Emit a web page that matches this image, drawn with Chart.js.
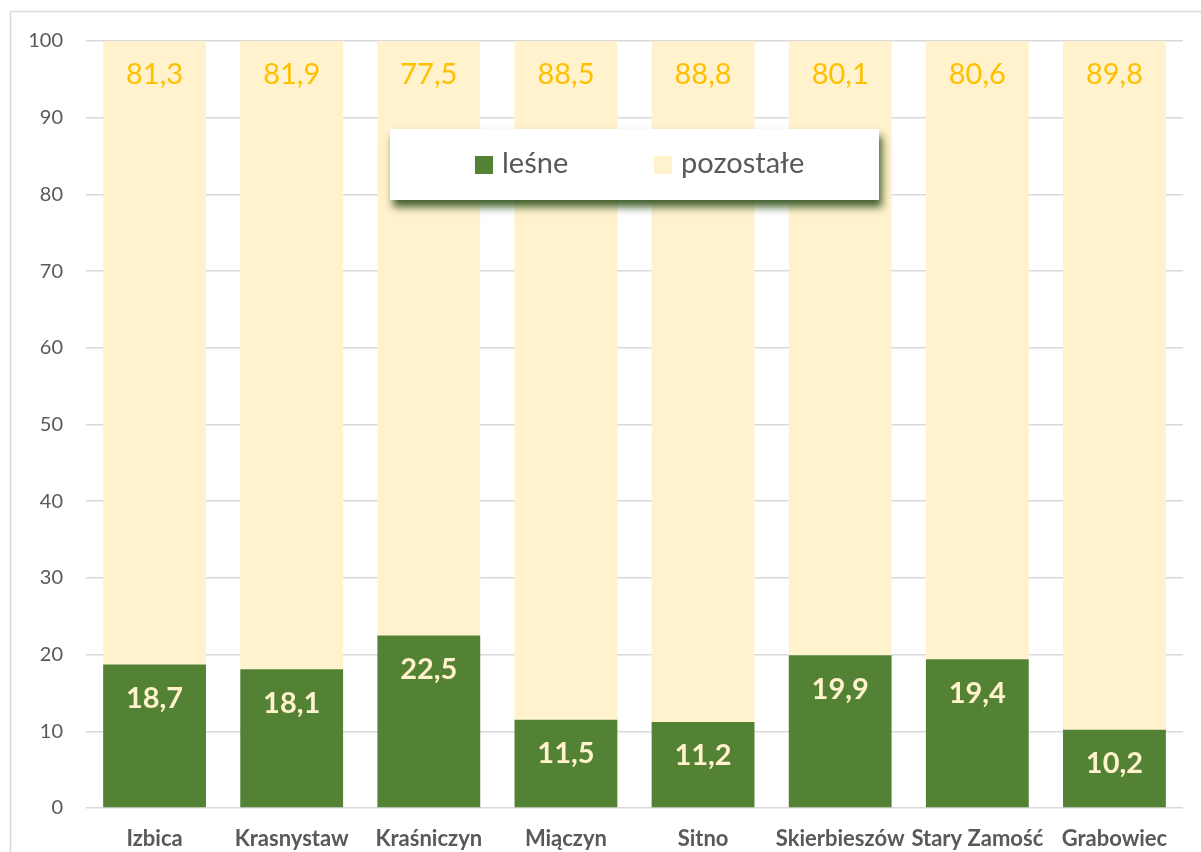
<!DOCTYPE html>
<html>
<head>
<meta charset="utf-8">
<script src="https://cdn.jsdelivr.net/npm/chart.js@4/dist/chart.umd.min.js"></script>
<style>
html,body{margin:0;padding:0;background:#fff;}
#wrap{width:1201px;height:852px;position:relative;}
</style>
</head>
<body>
<div id="wrap"><canvas id="c" width="1201" height="852"></canvas></div>
<script>
const categories = ["Izbica","Krasnystaw","Kraśniczyn","Miączyn","Sitno","Skierbieszów","Stary Zamość","Grabowiec"];
const lesne = [18.7,18.1,22.5,11.5,11.2,19.9,19.4,10.2];
const pozostale = [81.3,81.9,77.5,88.5,88.8,80.1,80.6,89.8];
const seriesNames = ["leśne","pozostałe"];
const yTicks = [0,10,20,30,40,50,60,70,80,90,100];

const FONT = "Lato, 'Open Sans', sans-serif";
const GREEN = "#548235", CREAM = "#FFF2CC";

const fmt = v => v.toFixed(1).replace('.', ',');

const framePlugin = {
  id:'frame',
  beforeDraw(chart){
    const ctx = chart.ctx;
    ctx.save();
    ctx.strokeStyle = '#D9D9D9';
    ctx.lineWidth = 1.5;
    ctx.strokeRect(10.5, 11.5, 1400, 1000);
    ctx.restore();
  }
};

const labelPlugin = {
  id:'vlabels',
  afterDatasetsDraw(chart){
    const ctx = chart.ctx;
    ctx.save();
    ctx.textAlign = 'center';
    ctx.textBaseline = 'middle';
    chart.data.datasets.forEach((ds, di) => {
      const meta = chart.getDatasetMeta(di);
      meta.data.forEach((bar, i) => {
        const v = ds.data[i];
        if (di === 0) {
          ctx.font = "bold 29px " + FONT;
          ctx.fillStyle = CREAM;
          ctx.fillText(fmt(v), bar.x, bar.y + 34);
        } else {
          ctx.font = "29px " + FONT;
          ctx.fillStyle = "#FFC000";
          ctx.fillText(fmt(v), bar.x, bar.y + 34);
        }
      });
    });
    ctx.restore();
  }
};

const legendPlugin = {
  id:'boxlegend',
  afterDraw(chart){
    const ctx = chart.ctx;
    const x = 390, y = 129, w = 489, h = 71;
    ctx.save();
    ctx.shadowColor = 'rgba(56,87,35,0.95)';
    ctx.shadowBlur = 8;
    ctx.shadowOffsetX = 3;
    ctx.shadowOffsetY = 7;
    ctx.fillStyle = '#fff';
    ctx.fillRect(x, y, w, h);
    ctx.restore();
    ctx.save();
    const marks = [475, 654];
    ctx.font = "29px " + FONT;
    ctx.textBaseline = 'middle';
    ctx.textAlign = 'left';
    chart.data.datasets.forEach((ds, di) => {
      ctx.fillStyle = ds.backgroundColor;
      ctx.fillRect(marks[di], 156, 18, 18);
      ctx.fillStyle = '#595959';
      ctx.fillText(ds.label, marks[di] + 27, 164);
    });
    ctx.restore();
  }
};

new Chart(document.getElementById('c'), {
  type:'bar',
  data:{
    labels: categories,
    datasets:[
      {label: seriesNames[0], data: lesne, backgroundColor: GREEN, borderWidth:0},
      {label: seriesNames[1], data: pozostale, backgroundColor: CREAM, borderWidth:0}
    ]
  },
  options:{
    responsive:false,
    animation:false,
    devicePixelRatio:1,
    categoryPercentage:1,
    barPercentage:0.75,
    layout:{padding:{left:0,right:18,top:41,bottom:0}},
    plugins:{legend:{display:false},tooltip:{enabled:false}},
    scales:{
      x:{
        stacked:true,
        grid:{display:false},
        border:{display:false},
        ticks:{font:{family:FONT,size:22,weight:'bold'},color:'#595959',padding:10,maxRotation:0,minRotation:0,autoSkip:false},
        afterFit(s){ s.height = 44; }
      },
      y:{
        stacked:true,
        min:0,max:100,
        afterBuildTicks(s){ s.ticks = yTicks.map(v=>({value:v})); },
        grid:{color:'#D9D9D9',lineWidth:1.5,drawTicks:false},
        border:{display:false},
        ticks:{font:{family:FONT,size:20},color:'#595959',padding:23},
        afterFit(s){ s.width = 86; }
      }
    }
  },
  plugins:[framePlugin,labelPlugin,legendPlugin]
});
</script>
</body>
</html>
